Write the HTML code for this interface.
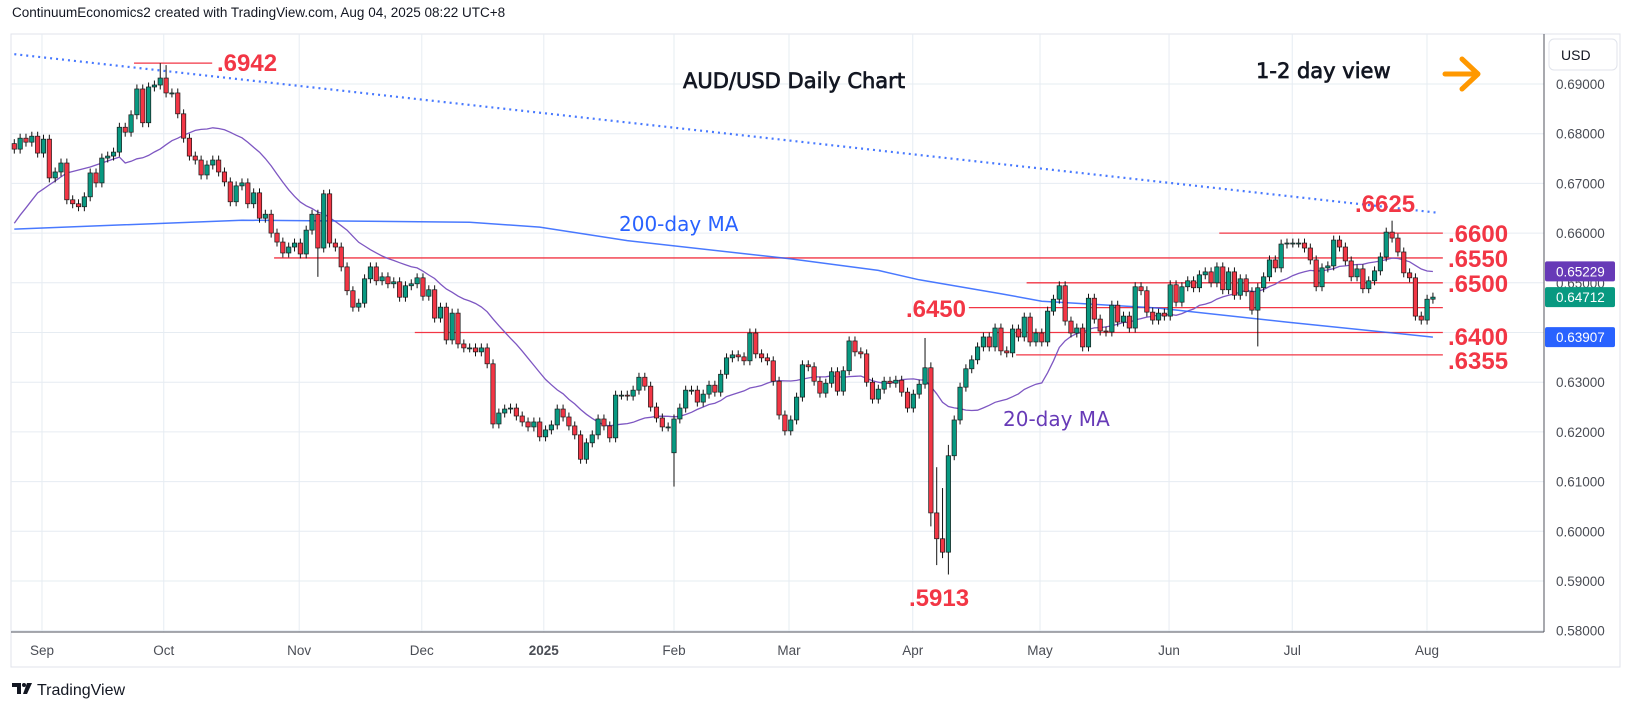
<!DOCTYPE html>
<html><head><meta charset="utf-8">
<style>
html,body{margin:0;padding:0;background:#fff;}
svg{display:block;}
text{font-family:"Liberation Sans",sans-serif;}
</style></head>
<body>
<svg id="chart" width="1634" height="711" viewBox="0 0 1634 711" xmlns="http://www.w3.org/2000/svg">
  <rect x="0" y="0" width="1634" height="711" fill="#ffffff"/>
  <text x="12" y="17" font-size="13.5" fill="#131722">ContinuumEconomics2 created with TradingView.com, Aug 04, 2025 08:22 UTC+8</text>
  <rect x="11" y="34" width="1609" height="633" fill="none" stroke="#e0e3eb" stroke-width="1"/>
  <g id="grid"></g>
  <g id="levels"></g>
  <g id="mas"></g>
  <g id="candles"></g>
  <g id="annot"></g>
  <line x1="1544" y1="34" x2="1544" y2="632" stroke="#50535e" stroke-width="1"/>
  <line x1="11" y1="632" x2="1544" y2="632" stroke="#50535e" stroke-width="1"/>
  <g id="yaxis"></g>
  <g id="xaxis"></g>
  <rect x="1549" y="39" width="68" height="31" rx="5" fill="#fff" stroke="#e0e3eb"/>
  <text x="1561" y="60" font-size="14" fill="#131722">USD</text>
  <text x="683" y="88" font-size="21" fill="#131722" stroke="#131722" stroke-width="0.7" style="font-family:'DejaVu Sans',sans-serif">AUD/USD Daily Chart</text>
  <text x="1256" y="78" font-size="21" fill="#131722" stroke="#131722" stroke-width="0.7" style="font-family:'DejaVu Sans',sans-serif">1-2 day view</text>
  <g>
    <line x1="1445" y1="74" x2="1476" y2="74" stroke="#ff9800" stroke-width="5" stroke-linecap="round"/>
    <polyline points="1462,59 1478,74 1462,89" fill="none" stroke="#ff9800" stroke-width="5" stroke-linecap="round" stroke-linejoin="round"/>
  </g>
  <text x="619" y="231" font-size="20" fill="#2962ff" style="font-family:'DejaVu Sans',sans-serif">200-day MA</text>
  <text x="1003" y="426" font-size="20" fill="#673ab7" style="font-family:'DejaVu Sans',sans-serif">20-day MA</text>
  <g id="tags"></g>
  <g>
    <path d="M12 683 h9 v11 h-4 v-7 h-5 z" fill="#131722"/>
    <circle cx="24" cy="685" r="2" fill="#131722"/>
    <path d="M27 683 h5 l-5 11 h-4 z" fill="#131722"/>
  </g>
  <text x="37" y="695" font-size="16" fill="#131722">TradingView</text>
</svg>
<script>
// ---- data ----
const closes = [
0.6769,0.6791,0.6783,0.6795,0.6761,0.6789,0.6711,0.6723,0.6741,0.6667,0.6659,0.6653,0.6673,0.6721,0.6701,0.6751,0.6755,0.6763,0.6813,0.6803,0.6838,0.6890,0.6822,0.6894,0.6898,0.6912,0.6882,0.6882,0.6840,0.6791,0.6755,0.6747,0.6717,0.6737,0.6747,0.6723,0.6703,0.6663,0.6695,0.6701,
0.6659,0.6681,0.6630,0.6638,0.6600,0.6582,0.6560,0.6572,0.6580,0.6558,0.6606,0.6638,0.6570,0.6679,0.6580,0.6572,0.6532,0.6484,0.6451,0.6459,0.6508,0.6532,0.6504,0.6512,0.6498,0.6502,0.6471,0.6494,0.6498,0.6510,0.6473,0.6486,0.6429,0.6451,0.6385,0.6439,0.6377,0.6369,0.6369,
0.6361,0.6369,0.6337,0.6216,0.6238,0.6246,0.6248,0.6232,0.6220,0.6210,0.6220,0.6190,0.6204,0.6214,0.6246,0.6230,0.6212,0.6194,0.6145,0.6178,0.6194,0.6226,0.6212,0.6188,0.6274,0.6274,0.6272,0.6284,0.6310,0.6292,0.6250,0.6228,0.6210,0.6210,0.6226,0.6248,0.6284,0.6284,0.6260,
0.6276,0.6294,0.6280,0.6316,0.6349,0.6355,0.6351,0.6343,0.6399,0.6357,0.6349,0.6343,0.6302,0.6234,0.6202,0.6224,0.6270,0.6335,0.6331,0.6302,0.6278,0.6298,0.6321,0.6282,0.6323,0.6383,0.6361,0.6357,0.6300,0.6266,0.6286,0.6302,0.6298,0.6304,0.6280,0.6248,0.6276,0.6296,0.6329,0.6037,
0.5985,0.5958,0.6152,0.6224,0.6290,0.6327,0.6345,0.6371,0.6391,0.6371,0.6409,0.6363,0.6359,0.6407,0.6391,0.6431,0.6381,0.6399,0.6381,0.6443,
0.6467,0.6494,0.6423,0.6399,0.6409,0.6371,0.6469,0.6427,0.6403,0.6401,0.6455,0.6421,0.6433,0.6409,0.6492,0.6484,0.6441,0.6425,0.6439,0.6433,
0.6496,0.6461,0.6492,0.6504,0.6490,0.6516,0.6522,0.6500,0.6532,0.6486,0.6522,0.6475,0.6508,0.6482,0.6445,0.6490,0.6512,0.6546,0.6530,0.6578,
0.6580,0.6580,0.6580,0.6570,0.6546,0.6492,0.6530,0.6534,0.6586,0.6572,0.6544,0.6512,0.6528,0.6488,0.6504,0.6524,0.6552,0.6602,0.6590,0.6562,
0.6520,0.6510,0.6433,0.6425,0.6467,0.64712];
const firstOpen = 0.6780;
const openOverrideIdx = [113];
const openOverrideVal = [0.6158];
const highIdx = [25,26,53,156,157,158,159,160,236];
const highVal = [0.6942,0.6938,0.6687,0.6389,0.6340,0.6129,0.6087,0.6174,0.6625];
const lowIdx = [52,113,157,158,159,160,213];
const lowVal = [0.6512,0.6090,0.6010,0.5932,0.5946,0.5913,0.6372];
const wickSize = 0.0009;
const ma20Early = [0.6620,0.6636,0.6651,0.6666,0.6681,0.6689,0.6697,0.6705,0.6713,0.6721,0.6724,0.6727,0.6730,0.6733,0.6737,0.6741,0.6745,0.6749,0.6753];
const ma200Idx = [0,39,78,90,105,133,148,155,169,176,196,218,243];
const ma200Val = [0.6608,0.6626,0.6622,0.6612,0.6585,0.6548,0.6525,0.6506,0.6478,0.6463,0.6449,0.6421,0.63907];
const ma20LastTag = 0.65229;
const priceTicks = [0.69,0.68,0.67,0.66,0.65,0.64,0.63,0.62,0.61,0.60,0.59,0.58];
const monthLabels = ["Sep","Oct","Nov","Dec","2025","Feb","Mar","Apr","May","Jun","Jul","Aug"];
const monthIdx = [4.74,25.6,48.8,69.8,90.7,113,132.7,153.9,175.7,197.8,218.9,241.98];
const levelVals = [0.6942,0.6600,0.6550,0.6500,0.6450,0.6400,0.6355];
const levelStartIdx = [20.5,206.4,44.5,173.4,163.5,68.6,171.6];
const levelEndIdx = [33.9,244.7,244.7,244.7,244.7,244.7,244.7];
const trendIdx = [0,244];
const trendVal = [0.6960,0.66407];

// ---- scales ----
const NS='http://www.w3.org/2000/svg';
function X(i){return 14.3 + i*5.838;}
function Y(p){return 84 + (0.69-p)*4970;}
function mk(tag,attrs,parent){const e=document.createElementNS(NS,tag);for(const k in attrs)e.setAttribute(k,attrs[k]);parent.appendChild(e);return e;}

const grid=document.getElementById('grid');
priceTicks.forEach((p,k)=>{
  const l=mk('line',{x1:11,x2:1544,y1:Y(p),y2:Y(p),stroke:'#e6ecf2','stroke-width':1},grid);
  
  
});
monthIdx.forEach((m,k)=>{
  const l=mk('line',{x1:X(m),x2:X(m),y1:34,y2:632,stroke:'#e6ecf2','stroke-width':1},grid);
  
  
});

const yax=document.getElementById('yaxis');
priceTicks.forEach(p=>{
  const t=mk('text',{x:1556,y:Y(p)+5,'font-size':13.5,fill:'#4a4d55'},yax);
  t.textContent=p.toFixed(5);
  
  
});
const xax=document.getElementById('xaxis');
monthLabels.forEach((m,k)=>{
  const t=mk('text',{x:X(monthIdx[k]),y:655,'font-size':13.5,fill:'#4a4d55','text-anchor':'middle','font-weight':m==='2025'?'bold':'normal'},xax);
  t.textContent=m;
  
  
});

// levels
const lv=document.getElementById('levels');
levelVals.forEach((v,k)=>{
  const l=mk('line',{x1:X(levelStartIdx[k]),x2:X(levelEndIdx[k]),y1:Y(v),y2:Y(v),stroke:'#f23645','stroke-width':1.3},lv);
  
  
});
// trend line
const tl=mk('line',{x1:X(trendIdx[0]),y1:Y(trendVal[0]),x2:X(trendIdx[1]),y2:Y(trendVal[1]),stroke:'#2962ff','stroke-width':2.2,'stroke-dasharray':'2 4','stroke-linecap':'butt',opacity:0.85},lv);



// moving averages
const mas=document.getElementById('mas');
const ma20=[];
for(let i=0;i<closes.length;i++){
  if(i<19){ma20.push(ma20Early[i]);}
  else{let s=0;for(let j=i-19;j<=i;j++)s+=closes[j];ma20.push(s/20);}
}
const p20=mk('path',{d:ma20.map((v,i)=>(i?'L':'M')+X(i).toFixed(1)+' '+Y(v).toFixed(1)).join(' '),fill:'none',stroke:'#7e57c2','stroke-width':1.3},mas);


const p200=mk('path',{d:ma200Idx.map((v,i)=>(i?'L':'M')+X(v).toFixed(1)+' '+Y(ma200Val[i]).toFixed(1)).join(' '),fill:'none',stroke:'#2962ff','stroke-width':1.5,opacity:0.85},mas);



// candles
const cg=document.getElementById('candles');
for(let i=0;i<closes.length;i++){
  let o=i===0?firstOpen:closes[i-1];
  const oi=openOverrideIdx.indexOf(i); if(oi>=0)o=openOverrideVal[oi];
  const c=closes[i];
  let h=Math.max(o,c)+wickSize, lo=Math.min(o,c)-wickSize;
  const hi=highIdx.indexOf(i); if(hi>=0)h=highVal[hi];
  const li=lowIdx.indexOf(i); if(li>=0)lo=lowVal[li];
  const x=X(i);
  const g=mk('g',{},cg);
  
  
  mk('line',{x1:x,x2:x,y1:Y(h),y2:Y(lo),stroke:'#111','stroke-width':1},g);
  const top=Y(Math.max(o,c)), bot=Y(Math.min(o,c));
  mk('rect',{x:x-2.2,y:top,width:4.4,height:Math.max(1,bot-top),fill:c>=o?'#089981':'#f23645',stroke:'#1a1a1a','stroke-width':0.7},g);
}

// annotations
const an=document.getElementById('annot');
function lab(txt,x,y,anchor,name){
  const t=mk('text',{x:x,y:y,'font-size':24,'font-weight':'bold',fill:'#f23645','text-anchor':anchor||'start'},an);
  t.textContent=txt;
  
  
}
lab('.6942',217,71,'start','label-6942');
lab('.6625',1355,212,'start','label-6625');
lab('.6600',1448,242,'start','label-6600');
lab('.6550',1448,267,'start','label-6550');
lab('.6500',1448,292,'start','label-6500');
lab('.6450',966,317,'end','label-6450');
lab('.6400',1448,345,'start','label-6400');
lab('.6355',1448,369,'start','label-6355');
lab('.5913',909,606,'start','label-5913');

// price tags
const tg=document.getElementById('tags');
function tag(v,col,name){
  const r=mk('rect',{x:1545,y:Y(v)-10,width:70,height:20,rx:2,fill:col},tg);
  
  
  const t=mk('text',{x:1556,y:Y(v)+5,'font-size':13.5,fill:'#fff'},tg);
  t.textContent=v.toFixed(5);
  
  
}
tag(ma20LastTag,'#673ab7','ma20-price-tag');
tag(closes[closes.length-1],'#089981','last-price-tag');
tag(ma200Val[ma200Val.length-1],'#2962ff','ma200-price-tag');
</script>
</body></html>
